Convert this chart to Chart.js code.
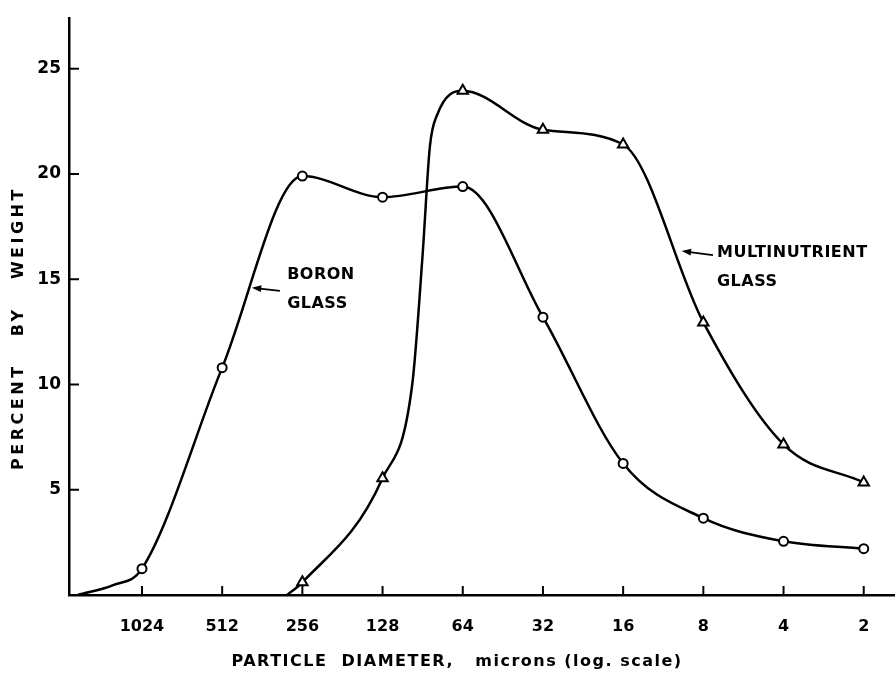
<!DOCTYPE html>
<html>
<head>
<meta charset="utf-8">
<script src="https://cdn.jsdelivr.net/npm/chart.js@4.4.0/dist/chart.umd.min.js"></script>
<style>
  html, body { margin: 0; padding: 0; background: #fff; }
  #wrap { width: 895px; height: 673px; }
</style>
</head>
<body>
<div id="wrap"><canvas id="chart"></canvas></div>
<script>
// particle diameter classes, microns (log scale, plotted at even steps)
const diameters = ["1024", "512", "256", "128", "64", "32", "16", "8", "4", "2"];
const yTicks = [5, 10, 15, 20, 25];

// Boron glass (circles); fractional positions are where the drawn curve runs, no marker
const boronPos = [-0.8, -0.36, 0, 1, 2, 3, 4, 5, 6, 7, 8, 9];
const boronValues = [0, 0.47, 1.25, 10.8, 19.9, 18.9, 19.4, 13.2, 6.25, 3.65, 2.55, 2.2];

// Multinutrient glass (triangles)
const multiPos = [1.81, 2, 3, 3.37, 3.5, 3.59, 3.68, 4, 5, 6, 7, 8, 9];
const multiValues = [0, 0.6, 5.55, 10.0, 16.2, 21.3, 22.8, 23.95, 22.1, 21.4, 12.95, 7.15, 5.35];

const font = "'DejaVu Sans', sans-serif";

function toPoints(pos, vals) {
  return pos.map((p, i) => ({ x: p, y: vals[i] }));
}

function markerRadius(r) {
  return (ctx) => (Number.isInteger(ctx.raw.x) ? r : 0);
}

// inward tick marks, axis titles and curve labels
const decorations = {
  id: "decorations",
  afterDraw(chart) {
    const ctx = chart.ctx;
    const xs = chart.scales.x;
    const ys = chart.scales.y;
    const area = chart.chartArea;

    ctx.save();
    ctx.strokeStyle = "#000";
    ctx.lineWidth = 2;
    diameters.forEach((d, i) => {
      const px = xs.getPixelForValue(i);
      ctx.beginPath();
      ctx.moveTo(px, area.bottom);
      ctx.lineTo(px, area.bottom - 9);
      ctx.stroke();
    });
    yTicks.forEach((v) => {
      const py = ys.getPixelForValue(v);
      ctx.beginPath();
      ctx.moveTo(area.left, py);
      ctx.lineTo(area.left + 10, py);
      ctx.stroke();
    });

    ctx.fillStyle = "#000";
    ctx.letterSpacing = "1.5px";
    ctx.font = "bold 16px " + font;
    ctx.textAlign = "center";
    ctx.textBaseline = "middle";
    ctx.fillText("PARTICLE  DIAMETER,   microns (log. scale)", 457, 662);

    ctx.save();
    ctx.translate(19, 328);
    ctx.rotate(-Math.PI / 2);
    ctx.letterSpacing = "3.5px";
    ctx.fillText("PERCENT   BY   WEIGHT", 0, 0);
    ctx.restore();

    // curve labels with small arrows
    const labels = [
      { lines: ["BORON", "GLASS"], x: 1.81, y: 15.2, tail: [1.72, 14.45], tip: [1.37, 14.6] },
      { lines: ["MULTINUTRIENT", "GLASS"], x: 7.17, y: 16.24, tail: [7.12, 16.15], tip: [6.73, 16.34] },
    ];
    ctx.letterSpacing = "0.5px";
    ctx.textAlign = "left";
    labels.forEach((l) => {
      const lx = xs.getPixelForValue(l.x);
      const ly = ys.getPixelForValue(l.y);
      l.lines.forEach((t, k) => ctx.fillText(t, lx, ly + k * 29));
      const tx = xs.getPixelForValue(l.tail[0]);
      const ty = ys.getPixelForValue(l.tail[1]);
      const hx = xs.getPixelForValue(l.tip[0]);
      const hy = ys.getPixelForValue(l.tip[1]);
      ctx.lineWidth = 1.8;
      ctx.beginPath();
      ctx.moveTo(tx, ty);
      ctx.lineTo(hx + 8, hy + 1);
      ctx.stroke();
      const a = Math.atan2(hy - ty, hx - tx);
      ctx.beginPath();
      ctx.moveTo(hx, hy);
      ctx.lineTo(hx - 10 * Math.cos(a - 0.35), hy - 10 * Math.sin(a - 0.35));
      ctx.lineTo(hx - 10 * Math.cos(a + 0.35), hy - 10 * Math.sin(a + 0.35));
      ctx.closePath();
      ctx.fill();
    });
    ctx.restore();
  },
};

const chart = new Chart(document.getElementById("chart"), {
  type: "line",
  data: {
    datasets: [
      {
        label: "Boron glass",
        data: toPoints(boronPos, boronValues),
        borderColor: "#000",
        borderWidth: 2.5,
        cubicInterpolationMode: "monotone",
        pointStyle: "circle",
        pointRadius: markerRadius(4.5),
        pointBackgroundColor: "#fff",
        pointBorderColor: "#000",
        pointBorderWidth: 2,
        fill: false,
      },
      {
        label: "Multinutrient glass",
        data: toPoints(multiPos, multiValues),
        borderColor: "#000",
        borderWidth: 2.5,
        cubicInterpolationMode: "monotone",
        pointStyle: "triangle",
        pointRadius: markerRadius(6),
        pointBackgroundColor: "#fff",
        pointBorderColor: "#000",
        pointBorderWidth: 2,
        fill: false,
      },
    ],
  },
  options: {
    responsive: true,
    maintainAspectRatio: false,
    animation: false,
    layout: { autoPadding: false, padding: { top: 12, right: 0, left: 0, bottom: 0 } },
    plugins: {
      legend: { display: false },
      tooltip: { enabled: false },
    },
    scales: {
      x: {
        type: "linear",
        min: -0.91,
        max: 9.39,
        afterBuildTicks: (scale) => {
          scale.ticks = diameters.map((d, i) => ({ value: i }));
        },
        afterFit: (scale) => {
          scale.height = 78;
        },
        grid: { display: false, drawTicks: false },
        border: { display: true, color: "#000", width: 2.5 },
        ticks: {
          color: "#000",
          padding: 22,
          font: { family: font, size: 16, weight: "bold" },
          callback: (v) => diameters[v],
        },
      },
      y: {
        min: 0,
        max: 27.4,
        afterBuildTicks: (scale) => {
          scale.ticks = yTicks.map((v) => ({ value: v }));
        },
        afterFit: (scale) => {
          scale.width = 69;
        },
        grid: { display: false, drawTicks: false },
        border: { display: true, color: "#000", width: 2.5 },
        ticks: {
          color: "#000",
          padding: 8,
          font: { family: font, size: 17, weight: "bold" },
        },
      },
    },
  },
  plugins: [decorations],
});
</script>
</body>
</html>
